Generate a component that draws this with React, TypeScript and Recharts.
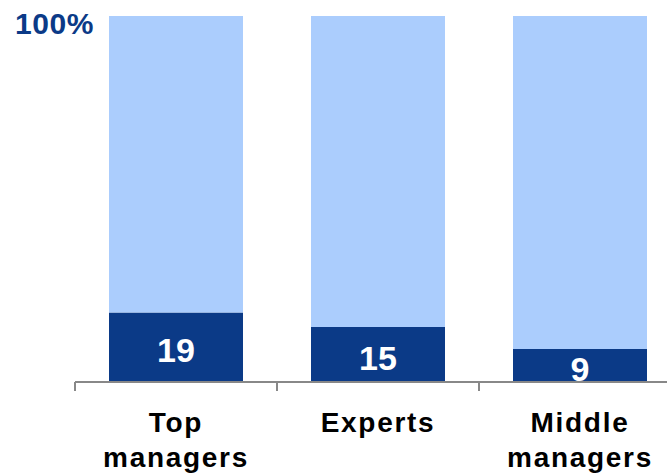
import React from "react";
import { BarChart, Bar, XAxis, YAxis, LabelList, ReferenceLine } from "recharts";

const categories = ["Top managers", "Experts", "Middle managers"];
const tickLines = [["Top", "managers"], ["Experts"], ["Middle", "managers"]];
const shares = [19, 15, 9];
const total = 100;

const data = categories.map((name, i) => ({
  name,
  value: shares[i],
  rest: total - shares[i],
}));

const FONT = "'Liberation Sans', Arial, Helvetica, sans-serif";
const DARK = "#0b3a87";
const LIGHT = "#abcdfd";
const AXIS = "#888888";

function CategoryTick(props: any) {
  const { x, y, payload, index } = props;
  const half = payload && payload.offset ? payload.offset : 101;
  const lines = tickLines[index] || [String(payload.value)];
  return (
    <g>
      <line x1={x - half} x2={x - half} y1={y} y2={y + 9} stroke={AXIS} strokeWidth={2} />
      {lines.map((t, i) => (
        <text
          key={i}
          x={x}
          y={y + 50 + i * 35}
          textAnchor="middle"
          fontFamily={FONT}
          fontWeight="bold"
          fontSize={28}
          letterSpacing={1.7}
          fill="#000"
        >
          {t}
        </text>
      ))}
    </g>
  );
}

function TopLabel(props: any) {
  const y = props.viewBox ? props.viewBox.y : 16;
  return (
    <text
      x={15}
      y={y + 18}
      fontFamily={FONT}
      fontWeight="bold"
      fontSize={30}
      letterSpacing={0.6}
      fill={DARK}
    >
      {total}%
    </text>
  );
}

function ValueLabel(props: any) {
  const { x, y, width, height, value } = props;
  return (
    <text
      x={x + width / 2}
      y={y + height / 2 + 15}
      textAnchor="middle"
      fontFamily={FONT}
      fontWeight="bold"
      fontSize={34}
      fill="#fff"
    >
      {value}
    </text>
  );
}

export default function App() {
  return (
    <div
      style={{
        position: "fixed",
        left: 0,
        top: 0,
        width: 667,
        height: 474,
        overflow: "hidden",
        background: "#fff",
      }}
    >
      <BarChart
        width={720}
        height={474}
        data={data}
        margin={{ top: 16, right: 39, left: 75, bottom: 0 }}
        barSize={134}
      >
        <XAxis
          dataKey="name"
          height={92}
          axisLine={{ stroke: AXIS, strokeWidth: 2 }}
          tickLine={false}
          tickSize={0}
          tickMargin={0}
          interval={0}
          tick={<CategoryTick />}
        />
        <YAxis hide domain={[0, total]} />
        <Bar dataKey="value" stackId="a" fill={DARK} isAnimationActive={false}>
          <LabelList dataKey="value" content={<ValueLabel />} />
        </Bar>
        <Bar dataKey="rest" stackId="a" fill={LIGHT} isAnimationActive={false} />
        <ReferenceLine
          y={total}
          stroke="none"
          ifOverflow="visible"
          label={<TopLabel />}
        />
      </BarChart>
    </div>
  );
}
